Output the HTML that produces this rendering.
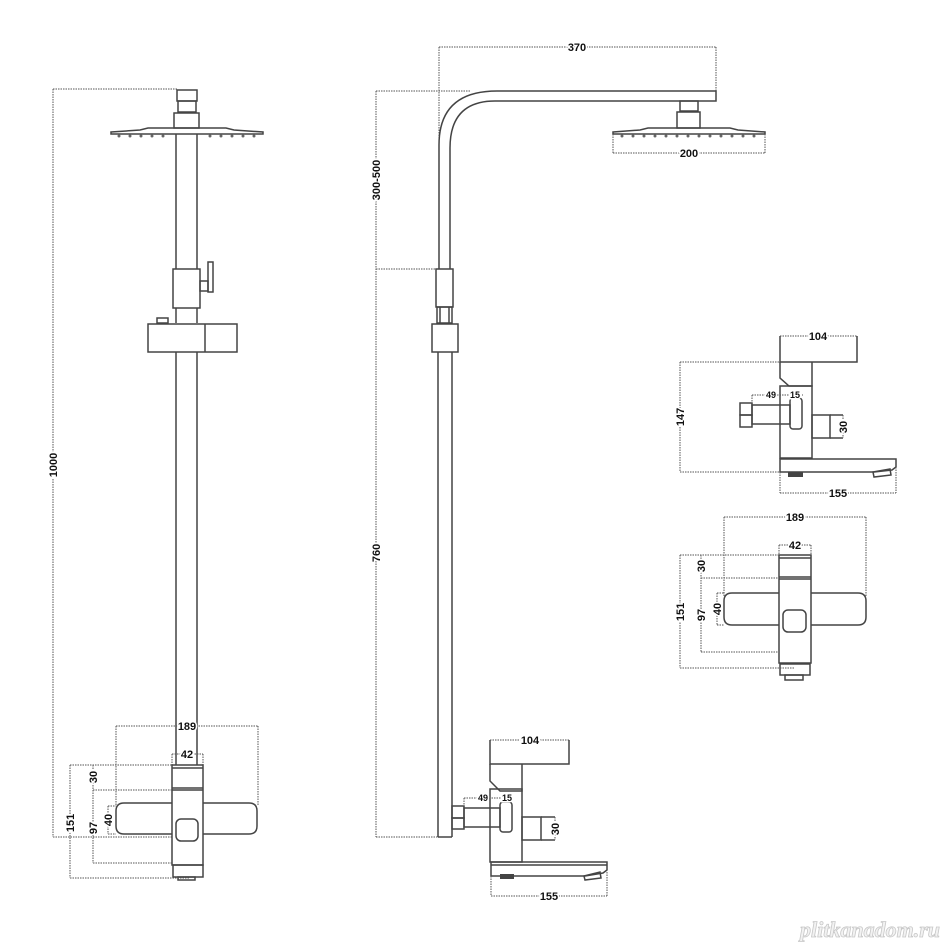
<!DOCTYPE html>
<html><head><meta charset="utf-8"><style>
html,body{margin:0;padding:0;background:#fff;}
svg{display:block}
.s{fill:none;stroke:#444;stroke-width:1.5}
.d{fill:none;stroke:#555;stroke-width:1;stroke-dasharray:1.5 1}
.t{font-family:"Liberation Sans",sans-serif;font-weight:bold;font-size:11px;fill:#111}
.ts{font-family:"Liberation Sans",sans-serif;font-weight:bold;font-size:9px;fill:#111}
</style></head><body>
<svg width="945" height="945" viewBox="0 0 945 945" xmlns="http://www.w3.org/2000/svg">
<!-- LEFT VIEW -->
<line class="d" x1="53" y1="89" x2="177" y2="89"/>
<line class="d" x1="53" y1="89" x2="53" y2="837"/>
<line class="d" x1="53" y1="837" x2="172" y2="837"/>
<text class="t" transform="translate(57,465) rotate(-90)" text-anchor="middle" style="paint-order:stroke;stroke:#fff;stroke-width:3">1000</text>
<rect class="s" x="177" y="90" width="20" height="11"/>
<rect class="s" x="178" y="101" width="18" height="11"/>
<rect class="s" x="174" y="113" width="25" height="15"/>
<path class="s" d="M111,132 L140,130 L148,128 L226,128 L234,130 L263,132 L263,134 L111,134 Z"/>
<g fill="#666"><circle cx="119" cy="136" r="1.5"/><circle cx="130" cy="136" r="1.5"/><circle cx="141" cy="136" r="1.5"/><circle cx="152" cy="136" r="1.5"/><circle cx="163" cy="136" r="1.5"/><circle cx="210" cy="136" r="1.5"/><circle cx="221" cy="136" r="1.5"/><circle cx="232" cy="136" r="1.5"/><circle cx="243" cy="136" r="1.5"/><circle cx="254" cy="136" r="1.5"/></g>
<line class="s" x1="176" y1="134" x2="176" y2="269"/><line class="s" x1="197" y1="134" x2="197" y2="269"/>
<rect class="s" x="173" y="269" width="27" height="39"/>
<rect class="s" x="200" y="281" width="8" height="10"/>
<rect class="s" x="208" y="262" width="5" height="30"/>
<line class="s" x1="176" y1="308" x2="176" y2="323"/><line class="s" x1="197" y1="308" x2="197" y2="323"/>
<rect class="s" x="157" y="318" width="11" height="5"/>
<rect class="s" x="148" y="324" width="89" height="28"/>
<line class="s" x1="205" y1="324" x2="205" y2="352"/>
<line class="s" x1="176" y1="352" x2="176" y2="765"/><line class="s" x1="197" y1="352" x2="197" y2="765"/>
<!-- left mixer -->
<line class="d" x1="116" y1="726" x2="258" y2="726"/>
<line class="d" x1="116" y1="726" x2="116" y2="806"/><line class="d" x1="258" y1="726" x2="258" y2="806"/>
<text class="t" x="187" y="730" text-anchor="middle" style="paint-order:stroke;stroke:#fff;stroke-width:3">189</text>
<line class="d" x1="172" y1="754" x2="203" y2="754"/><line class="d" x1="172" y1="754" x2="172" y2="765"/><line class="d" x1="203" y1="754" x2="203" y2="765"/>
<text class="t" x="187" y="758" text-anchor="middle" style="paint-order:stroke;stroke:#fff;stroke-width:3">42</text>
<rect class="s" x="172" y="765" width="31" height="100"/>
<line class="s" x1="172" y1="768" x2="203" y2="768"/>
<line class="s" x1="172" y1="788" x2="203" y2="788"/><line class="s" x1="172" y1="790" x2="203" y2="790"/>
<path class="s" d="M124,803 L172,803 M203,803 L249,803 Q257,803 257,811 L257,826 Q257,834 249,834 L203,834 M172,834 L124,834 Q116,834 116,826 L116,811 Q116,803 124,803"/>
<rect class="s" x="176" y="819" width="22" height="22" rx="5"/>
<rect class="s" x="173" y="865" width="30" height="12"/>
<rect class="s" x="178" y="877" width="17" height="3"/>
<line class="d" x1="70" y1="765" x2="172" y2="765"/><line class="d" x1="70" y1="765" x2="70" y2="878"/><line class="d" x1="70" y1="878" x2="190" y2="878"/>
<text class="t" transform="translate(74,823) rotate(-90)" text-anchor="middle" style="paint-order:stroke;stroke:#fff;stroke-width:3">151</text>
<line class="d" x1="93" y1="790" x2="172" y2="790"/><line class="d" x1="93" y1="765" x2="93" y2="863"/><line class="d" x1="93" y1="863" x2="172" y2="863"/>
<text class="t" transform="translate(97,777) rotate(-90)" text-anchor="middle" style="paint-order:stroke;stroke:#fff;stroke-width:3">30</text>
<text class="t" transform="translate(97,828) rotate(-90)" text-anchor="middle" style="paint-order:stroke;stroke:#fff;stroke-width:3">97</text>
<line class="d" x1="108" y1="806" x2="116" y2="806"/><line class="d" x1="108" y1="806" x2="108" y2="834"/><line class="d" x1="108" y1="834" x2="116" y2="834"/>
<text class="t" transform="translate(112,820) rotate(-90)" text-anchor="middle" style="paint-order:stroke;stroke:#fff;stroke-width:3">40</text>

<!-- MIDDLE VIEW -->
<line class="d" x1="439" y1="47" x2="716" y2="47"/>
<line class="d" x1="439" y1="47" x2="439" y2="140"/><line class="d" x1="716" y1="47" x2="716" y2="91"/>
<text class="t" x="577" y="51" text-anchor="middle" style="paint-order:stroke;stroke:#fff;stroke-width:3">370</text>
<path class="s" d="M439,269 L439,145 Q439,91 497,91 L716,91 L716,101 L495,101 Q450,101 450,148 L450,269"/>
<line class="d" x1="376" y1="91" x2="470" y2="91"/>
<line class="d" x1="376" y1="91" x2="376" y2="837"/>
<line class="d" x1="376" y1="269" x2="437" y2="269"/>
<line class="d" x1="376" y1="837" x2="438" y2="837"/>
<text class="t" transform="translate(380,180) rotate(-90)" text-anchor="middle" style="paint-order:stroke;stroke:#fff;stroke-width:3">300-500</text>
<text class="t" transform="translate(380,553) rotate(-90)" text-anchor="middle" style="paint-order:stroke;stroke:#fff;stroke-width:3">760</text>
<rect class="s" x="680" y="101" width="18" height="10"/>
<rect class="s" x="677" y="112" width="23" height="16"/>
<path class="s" d="M613,132 L640,130 L648,128 L730,128 L738,130 L765,132 L765,134 L613,134 Z"/>
<g fill="#666"><circle cx="622" cy="136" r="1.5"/><circle cx="633" cy="136" r="1.5"/><circle cx="644" cy="136" r="1.5"/><circle cx="655" cy="136" r="1.5"/><circle cx="666" cy="136" r="1.5"/><circle cx="677" cy="136" r="1.5"/><circle cx="688" cy="136" r="1.5"/><circle cx="699" cy="136" r="1.5"/><circle cx="710" cy="136" r="1.5"/><circle cx="721" cy="136" r="1.5"/><circle cx="732" cy="136" r="1.5"/><circle cx="743" cy="136" r="1.5"/><circle cx="754" cy="136" r="1.5"/></g>
<line class="d" x1="613" y1="153" x2="765" y2="153"/><line class="d" x1="613" y1="134" x2="613" y2="153"/><line class="d" x1="765" y1="134" x2="765" y2="153"/>
<text class="t" x="689" y="157" text-anchor="middle" style="paint-order:stroke;stroke:#fff;stroke-width:3">200</text>
<rect class="s" x="436" y="269" width="17" height="38"/>
<rect class="s" x="437" y="307" width="15" height="16"/>
<line class="s" x1="440" y1="307" x2="440" y2="323"/><line class="s" x1="449" y1="307" x2="449" y2="323"/>
<rect class="s" x="432" y="324" width="26" height="28"/>
<line class="s" x1="438" y1="352" x2="438" y2="837"/><line class="s" x1="452" y1="352" x2="452" y2="837"/>
<line class="s" x1="438" y1="837" x2="452" y2="837"/>
<!-- middle mixer -->
<line class="d" x1="490" y1="740" x2="569" y2="740"/><line class="d" x1="569" y1="740" x2="569" y2="764"/>
<text class="t" x="530" y="744" text-anchor="middle" style="paint-order:stroke;stroke:#fff;stroke-width:3">104</text>
<path class="s" d="M490,740 L490,764 L569,764 L569,740"/>
<path class="s" d="M490,764 L490,781 L500,791 L522,791 L522,764"/>
<rect class="s" x="490" y="789" width="32" height="73"/>
<rect class="s" x="452" y="806" width="12" height="12"/><rect class="s" x="452" y="818" width="12" height="11"/>
<rect class="s" x="464" y="808" width="36" height="19"/>
<rect class="s" x="500" y="802" width="12" height="30" rx="3"/>
<rect class="s" x="522" y="817" width="19" height="23"/><line class="s" x1="541" y1="817" x2="555" y2="817"/><line class="s" x1="541" y1="840" x2="555" y2="840"/>
<line class="d" x1="555" y1="817" x2="555" y2="840"/>
<text class="t" transform="translate(559,829) rotate(-90)" text-anchor="middle" style="paint-order:stroke;stroke:#fff;stroke-width:3">30</text>
<line class="d" x1="464" y1="798" x2="513" y2="798"/><line class="d" x1="464" y1="798" x2="464" y2="806"/>
<text class="ts" x="483" y="801" text-anchor="middle" style="paint-order:stroke;stroke:#fff;stroke-width:3">49</text>
<text class="ts" x="507" y="801" text-anchor="middle" style="paint-order:stroke;stroke:#fff;stroke-width:3">15</text>
<path class="s" d="M491,862 L607,862 L607,870 L603,873 L585,876 L491,876 Z"/>
<line class="s" x1="491" y1="865" x2="607" y2="865"/>
<rect x="500" y="874" width="14" height="5" fill="#444"/>
<path class="s" d="M584,876 L600,872 L601,878 L585,880 Z"/>
<line class="d" x1="491" y1="896" x2="607" y2="896"/><line class="d" x1="491" y1="876" x2="491" y2="896"/><line class="d" x1="607" y1="872" x2="607" y2="896"/>
<text class="t" x="549" y="900" text-anchor="middle" style="paint-order:stroke;stroke:#fff;stroke-width:3">155</text>

<!-- RIGHT TOP MIXER -->
<line class="d" x1="780" y1="336" x2="857" y2="336"/><line class="d" x1="857" y1="336" x2="857" y2="362"/>
<text class="t" x="818" y="340" text-anchor="middle" style="paint-order:stroke;stroke:#fff;stroke-width:3">104</text>
<path class="s" d="M780,336 L780,362 L857,362 L857,336"/>
<path class="s" d="M780,362 L780,378 L789,386 L812,386 L812,362"/>
<rect class="s" x="780" y="386" width="32" height="72"/>
<rect class="s" x="740" y="403" width="12" height="12"/><rect class="s" x="740" y="415" width="12" height="12"/>
<rect class="s" x="752" y="405" width="38" height="19"/>
<rect class="s" x="790" y="398" width="12" height="31" rx="3"/>
<rect class="s" x="812" y="415" width="18" height="23"/><line class="s" x1="830" y1="415" x2="843" y2="415"/><line class="s" x1="830" y1="438" x2="843" y2="438"/>
<line class="d" x1="843" y1="415" x2="843" y2="438"/>
<text class="t" transform="translate(847,427) rotate(-90)" text-anchor="middle" style="paint-order:stroke;stroke:#fff;stroke-width:3">30</text>
<line class="d" x1="752" y1="395" x2="803" y2="395"/><line class="d" x1="752" y1="395" x2="752" y2="403"/>
<text class="ts" x="771" y="398" text-anchor="middle" style="paint-order:stroke;stroke:#fff;stroke-width:3">49</text>
<text class="ts" x="795" y="398" text-anchor="middle" style="paint-order:stroke;stroke:#fff;stroke-width:3">15</text>
<path class="s" d="M780,459 L896,459 L896,467 L892,470 L874,472 L780,472 Z"/>
<rect x="788" y="472" width="15" height="5" fill="#444"/>
<path class="s" d="M873,472 L890,469 L891,475 L874,477 Z"/>
<line class="d" x1="680" y1="362" x2="780" y2="362"/><line class="d" x1="680" y1="362" x2="680" y2="472"/><line class="d" x1="680" y1="472" x2="780" y2="472"/>
<text class="t" transform="translate(684,417) rotate(-90)" text-anchor="middle" style="paint-order:stroke;stroke:#fff;stroke-width:3">147</text>
<line class="d" x1="780" y1="493" x2="896" y2="493"/><line class="d" x1="780" y1="472" x2="780" y2="493"/><line class="d" x1="896" y1="467" x2="896" y2="493"/>
<text class="t" x="838" y="497" text-anchor="middle" style="paint-order:stroke;stroke:#fff;stroke-width:3">155</text>

<!-- RIGHT BOTTOM MIXER -->
<line class="d" x1="724" y1="517" x2="866" y2="517"/>
<line class="d" x1="724" y1="517" x2="724" y2="596"/><line class="d" x1="866" y1="517" x2="866" y2="596"/>
<text class="t" x="795" y="521" text-anchor="middle" style="paint-order:stroke;stroke:#fff;stroke-width:3">189</text>
<line class="d" x1="779" y1="545" x2="811" y2="545"/><line class="d" x1="779" y1="545" x2="779" y2="555"/><line class="d" x1="811" y1="545" x2="811" y2="555"/>
<text class="t" x="795" y="549" text-anchor="middle" style="paint-order:stroke;stroke:#fff;stroke-width:3">42</text>
<rect class="s" x="779" y="555" width="32" height="108"/>
<line class="s" x1="779" y1="558" x2="811" y2="558"/>
<line class="s" x1="779" y1="577" x2="811" y2="577"/><line class="s" x1="779" y1="579" x2="811" y2="579"/>
<path class="s" d="M732,593 L779,593 M811,593 L858,593 Q866,593 866,601 L866,617 Q866,625 858,625 L811,625 M779,625 L732,625 Q724,625 724,617 L724,601 Q724,593 732,593"/>
<rect class="s" x="783" y="610" width="23" height="22" rx="5"/>
<rect class="s" x="780" y="664" width="30" height="11"/>
<rect class="s" x="785" y="675" width="18" height="5"/>
<line class="d" x1="680" y1="555" x2="779" y2="555"/><line class="d" x1="680" y1="555" x2="680" y2="668"/><line class="d" x1="680" y1="668" x2="795" y2="668"/>
<text class="t" transform="translate(684,612) rotate(-90)" text-anchor="middle" style="paint-order:stroke;stroke:#fff;stroke-width:3">151</text>
<line class="d" x1="701" y1="578" x2="779" y2="578"/><line class="d" x1="701" y1="555" x2="701" y2="652"/><line class="d" x1="701" y1="652" x2="779" y2="652"/>
<text class="t" transform="translate(705,566) rotate(-90)" text-anchor="middle" style="paint-order:stroke;stroke:#fff;stroke-width:3">30</text>
<text class="t" transform="translate(705,615) rotate(-90)" text-anchor="middle" style="paint-order:stroke;stroke:#fff;stroke-width:3">97</text>
<line class="d" x1="717" y1="593" x2="724" y2="593"/><line class="d" x1="717" y1="593" x2="717" y2="625"/><line class="d" x1="717" y1="625" x2="724" y2="625"/>
<text class="t" transform="translate(721,609) rotate(-90)" text-anchor="middle" style="paint-order:stroke;stroke:#fff;stroke-width:3">40</text>

<!-- watermark -->
<text x="940" y="937" text-anchor="end" style="font-family:'Liberation Serif',serif;font-style:italic;font-weight:bold;font-size:22px;fill:#f2f2f2;stroke:#c8c8c8;stroke-width:0.8">plitkanadom.ru</text>
</svg>
</body></html>
